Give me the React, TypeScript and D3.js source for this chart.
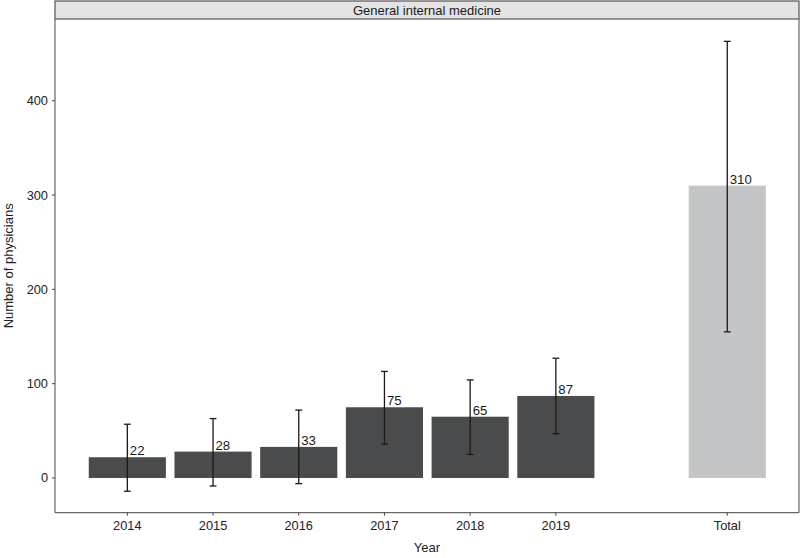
import React from "react";
import * as d3 from "d3";

const categories = ["2014", "2015", "2016", "2017", "2018", "2019", "Total"];
const positions = [1, 2, 3, 4, 5, 6, 8];
const values = [22, 28, 33, 75, 65, 87, 310];
const lower = [-14, -8.5, -6, 36, 25, 47, 155];
const upper = [57, 63, 72, 113, 104, 127, 463];
const isTotal = [false, false, false, false, false, false, true];
const yTicks = [0, 100, 200, 300, 400];
const stripTitle = "General internal medicine";
const xTitle = "Year";
const yTitle = "Number of physicians";

const W = 800;
const H = 558;
const left = 55;
const right = 799;
const top = 19;
const bottom = 512.7;

export default function App() {
  const x = d3.scaleLinear().domain([0.156, 8.837]).range([left, right]);
  const y = d3.scaleLinear().domain([-36.8, 486.7]).range([bottom, top]);
  const bw = x(1.45) - x(1);
  const cap = x(1.04) - x(1);
  const font = "'Liberation Sans', Arial, Helvetica, sans-serif";
  return (
    <svg width={W} height={H} style={{ position: "absolute", left: 0, top: 0 }} fontFamily={font}>
      <rect x={0} y={0} width={W} height={H} fill="#fff" />
      {/* strip */}
      <rect x={left} y={1} width={right - left} height={top - 1} fill="#e4e4e5" stroke="#555" strokeWidth={1.2} />
      <text x={(left + right) / 2} y={14.5} textAnchor="middle" fontSize={13} fill="#1a1a1a">{stripTitle}</text>
      {/* bars */}
      {values.map((v, i) => (
        <rect key={"b" + i} x={x(positions[i]) - bw} y={y(v)} width={bw * 2} height={y(0) - y(v)}
          fill={isTotal[i] ? "#c4c5c7" : "#4a4b4d"} />
      ))}
      {/* error bars */}
      {values.map((v, i) => {
        const cx = x(positions[i]);
        return (
          <g key={"e" + i} stroke="#1a1a1a" strokeWidth={1.3}>
            <line x1={cx} x2={cx} y1={y(lower[i])} y2={y(upper[i])} />
            <line x1={cx - cap} x2={cx + cap} y1={y(lower[i])} y2={y(lower[i])} />
            <line x1={cx - cap} x2={cx + cap} y1={y(upper[i])} y2={y(upper[i])} />
          </g>
        );
      })}
      {/* value labels */}
      {values.map((v, i) => (
        <text key={"l" + i} x={x(positions[i]) + 2.5} y={y(v) - 2} fontSize={13.2} fill="#1a1a1a">{v}</text>
      ))}
      {/* axes */}
      <line x1={left} x2={left} y1={top} y2={bottom} stroke="#666" strokeWidth={1.2} />
      <line x1={left} x2={right} y1={bottom} y2={bottom} stroke="#666" strokeWidth={1.2} />
      <line x1={right} x2={right} y1={top} y2={bottom} stroke="#666" strokeWidth={1.2} />
      {yTicks.map((t) => (
        <g key={"yt" + t}>
          <line x1={left - 3} x2={left} y1={y(t)} y2={y(t)} stroke="#444" strokeWidth={1} />
          <text x={left - 7} y={y(t) + 4.5} textAnchor="end" fontSize={12.8} fill="#222">{t}</text>
        </g>
      ))}
      {categories.map((c, i) => (
        <g key={"xt" + c}>
          <line x1={x(positions[i])} x2={x(positions[i])} y1={bottom} y2={bottom + 3} stroke="#444" strokeWidth={1} />
          <text x={x(positions[i])} y={bottom + 17} textAnchor="middle" fontSize={12.8} fill="#222">{c}</text>
        </g>
      ))}
      <text x={(left + right) / 2} y={552} textAnchor="middle" fontSize={13} fill="#222">{xTitle}</text>
      <text transform={`translate(13, ${(top + bottom) / 2}) rotate(-90)`} textAnchor="middle" fontSize={13} fill="#222">{yTitle}</text>
    </svg>
  );
}
